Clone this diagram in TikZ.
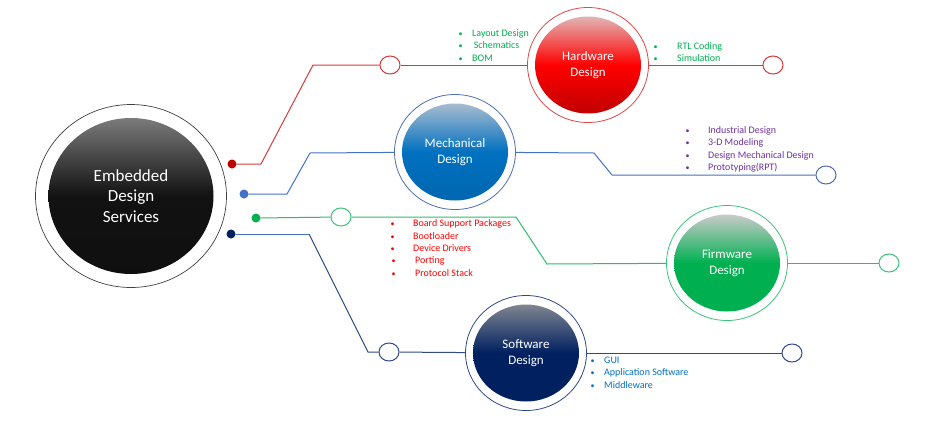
\documentclass[tikz,border=0pt]{standalone}
\usepackage{fontspec}
\setmainfont{Carlito}
\usepackage{tikz}
\usetikzlibrary{shapes.geometric}

\definecolor{hwred}{HTML}{FF0000}
\definecolor{hwdark}{HTML}{C00000}
\definecolor{hwtop}{HTML}{E2B4B4}
\definecolor{hwrim}{HTML}{E04848}
\definecolor{hwline}{HTML}{D83A3A}
\definecolor{mdblue}{HTML}{0070C0}
\definecolor{mdtop}{HTML}{A9BCCF}
\definecolor{mdrim}{HTML}{4F6FAF}
\definecolor{mdline}{HTML}{4472C4}
\definecolor{fwgreen}{HTML}{00B050}
\definecolor{fwtop}{HTML}{CACACA}
\definecolor{fwrim}{HTML}{3CC47A}
\definecolor{fwline}{HTML}{2DBE6C}
\definecolor{swnavy}{HTML}{002060}
\definecolor{swtop}{HTML}{7F8590}
\definecolor{swrim}{HTML}{2F4A86}
\definecolor{swline}{HTML}{2F4A86}
\definecolor{mdtext}{HTML}{7030A0}

\newcommand\blt[2]{\makebox[#1][l]{\footnotesize\textbullet}#2}

\tikzset{
  ring/.style={ellipse, draw=#1, line width=0.8pt, fill=white,
    minimum width=121pt, minimum height=115pt, inner sep=0pt},
  core/.style n args={3}{ellipse, minimum width=106pt, minimum height=97pt,
    inner sep=0pt, text=white, align=center,
    font=\fontsize{13}{16}\selectfont,
    top color=#1, bottom color=#3, middle color=#2},
  knob/.style={ellipse, draw=#1, line width=1pt, fill=white,
    minimum width=20pt, minimum height=18pt, inner sep=0pt},
  dot/.style={circle, fill=#1, minimum size=9pt, inner sep=0pt},
  conn/.style={draw=#1, line width=1pt},
  list/.style={text=#1, align=left, inner sep=0pt,
    font=\fontsize{10}{12.4}\selectfont}
}

\begin{document}
\begin{tikzpicture}[x=1pt,y=-1pt]
  \fill[white] (0,0) rectangle (945,445);

  % rings, knobs and dots
  \node[ring=black!75, line width=0.7pt, minimum width=191pt, minimum height=183pt] (edsring) at (131,196) {};
  \node[ring=hwrim] (hwring) at (588,65) {};
  \node[ring=mdrim] (mdring) at (455,152) {};
  \node[ring=fwrim] (fwring) at (727,263) {};
  \node[ring=swrim] (swring) at (526,353) {};

  \node[dot=hwdark] (hwdot) at (232,164) {};
  \node[dot=mdline] (mddot) at (244,194) {};
  \node[dot=fwgreen] (fwdot) at (256,218) {};
  \node[dot=swnavy] (swdot) at (231,234) {};

  \node[knob=hwline] (hwin) at (390,65) {};
  \node[knob=hwline] (hwout) at (773,65) {};
  \node[knob=mdrim] (mdout) at (826,175) {};
  \node[knob=fwrim] (fwin) at (341,217) {};
  \node[knob=fwrim] (fwout) at (889,263) {};
  \node[knob=swrim] (swin) at (389,352) {};
  \node[knob=swrim] (swout) at (792,353) {};

  % bends
  \coordinate (hwbend1) at (261,164);
  \coordinate (hwbend2) at (313,65);
  \coordinate (mdbend1) at (287,194);
  \coordinate (mdbend2) at (310,153);
  \coordinate (mdbend3) at (594,153);
  \coordinate (mdbend4) at (612,175);
  \coordinate (fwbend1) at (516,217);
  \coordinate (fwbend2) at (547,264);
  \coordinate (swbend1) at (309,234);
  \coordinate (swbend2) at (368,352);

  % connectors
  \draw[conn=hwline] (hwdot) -- (hwbend1) -- (hwbend2) -- (hwin);
  \draw[conn=hwline] (hwin) -- (hwring);
  \draw[conn=hwline] (hwring) -- (hwout);
  \draw[conn=mdline] (mddot) -- (mdbend1) -- (mdbend2) -- (mdring);
  \draw[conn=mdline] (mdring) -- (mdbend3) -- (mdbend4) -- (mdout);
  \draw[conn=fwline] (fwdot) -- (fwin);
  \draw[conn=fwline] (fwin) -- (fwbend1) -- (fwbend2) -- (fwring);
  \draw[conn=fwline] (fwring) -- (fwout);
  \draw[conn=mdline] (swdot) -- (swbend1);
  \draw[conn=swline] (swbend1) -- (swbend2) -- (swin);
  \draw[conn=swline] (swin) -- (swring);
  \draw[conn=swline] (swring) -- (swout);

  % bullet lists
  \node[list=fwgreen, anchor=west] (hwleft) at (458.5,45.5)
    {\blt{13.5pt}{Layout Design}\\\blt{13.5pt}{\,Schematics}\\\blt{13.5pt}{BOM}};
  \node[list=fwgreen, anchor=west] (hwright) at (653.5,52)
    {\blt{23.5pt}{RTL Coding}\\\blt{23.5pt}{Simulation}};
  \node[list=mdtext, anchor=west] (mdlist) at (685.5,149.5)
    {\blt{22.5pt}{Industrial Design}\\\blt{22.5pt}{3-D Modeling}\\
     \blt{22.5pt}{Design Mechanical Design}\\\blt{22.5pt}{Prototyping(RPT)}};
  \node[list=hwred, anchor=west] (fwlist) at (390.5,248)
    {\blt{22.5pt}{Board Support Packages}\\\blt{22.5pt}{Bootloader}\\
     \blt{22.5pt}{Device Drivers}\\\hspace{1pt}\blt{23.5pt}{Porting}\\
     \hspace{1pt}\blt{23.5pt}{Protocol Stack}};
  \node[list=mdblue, anchor=west] (swlist) at (590.5,372.7)
    {\blt{13.5pt}{GUI}\\\blt{13.5pt}{Application Software}\\\blt{13.5pt}{Middleware}};

  % shaded cores
  \node[core={black!52}{black!93}{black!94}, minimum width=165pt, minimum height=156pt,
    font=\fontsize{17}{20.5}\selectfont] (eds) at (131,196) {Embedded\\Design\\Services};
  \node[core={hwtop}{hwred}{hwdark}] (hw) at (588,65) {Hardware\\Design};
  \node[core={mdtop}{mdblue}{mdblue!92!black}] (md) at (455,152) {Mechanical\\Design};
  \node[core={fwtop}{fwgreen}{fwgreen}] (fw) at (727,263) {Firmware\\Design};
  \node[core={swtop}{swnavy}{swnavy}] (sw) at (526,353) {Software\\Design};
\end{tikzpicture}
\end{document}
